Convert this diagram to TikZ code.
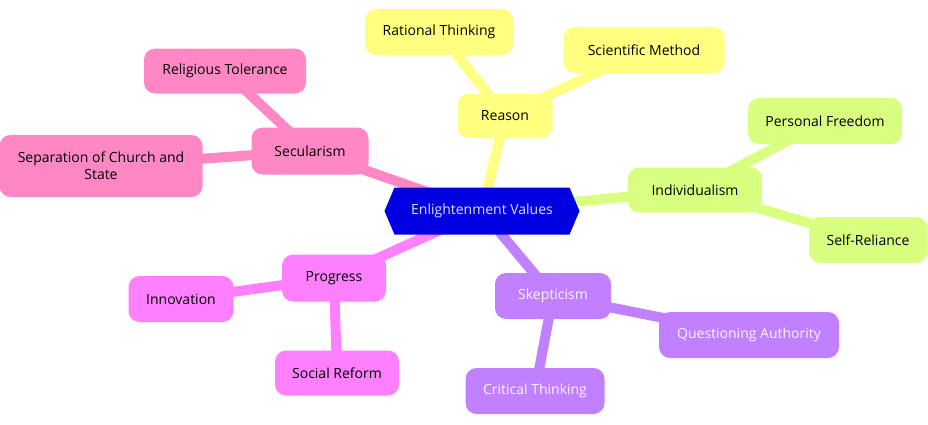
\documentclass[tikz,border=0pt]{standalone}
\usepackage{fontspec}
\setmainfont{Open Sans}
\usetikzlibrary{shapes.symbols}
\definecolor{hubblue}{HTML}{0000E0}
\definecolor{reasonyellow}{HTML}{FFFF80}
\definecolor{secpink}{HTML}{FF88C4}
\definecolor{indgreen}{HTML}{D9FF80}
\definecolor{skeppurple}{HTML}{C080FF}
\definecolor{progmagenta}{HTML}{FF80FF}
\pgfdeclarelayer{background}
\pgfsetlayers{background,main}
\tikzset{
  topic/.style={rounded corners=11pt,inner sep=0pt,minimum height=45pt,
    align=center,font=\fontsize{14}{17}\selectfont},
  branch/.style={line width=10pt},
}
\begin{document}
\begin{tikzpicture}[x=1pt,y=-1pt]
\useasboundingbox (0,0) rectangle (928,424);
% hub
\node[signal,signal to=west and east,signal pointer angle=134,fill=hubblue,
  text=white!88!hubblue,minimum width=195pt,minimum height=47pt,inner sep=0pt,
  font=\fontsize{14}{17}\selectfont] (hub) at (482,211) {Enlightenment Values};
% reason
\node[topic,fill=reasonyellow,minimum width=95pt,minimum height=44pt] (reason) at (505,116) {Reason};
\node[topic,fill=reasonyellow,minimum width=148pt,minimum height=46pt] (rational) at (439,32) {Rational Thinking};
\node[topic,fill=reasonyellow,minimum width=161pt,minimum height=46pt] (scientific) at (644,50) {Scientific Method};
% secularism
\node[topic,fill=secpink,minimum width=117pt,minimum height=47pt] (secular) at (310,151) {Secularism};
\node[topic,fill=secpink,minimum width=162pt,minimum height=45pt] (tolerance) at (225,71) {Religious Tolerance};
\node[topic,fill=secpink,minimum width=203pt,minimum height=62pt] (separation) at (101,166) {Separation of Church and\\State};
% individualism
\node[topic,fill=indgreen,minimum width=134pt,minimum height=45pt] (individual) at (695,190) {Individualism};
\node[topic,fill=indgreen,minimum width=154pt,minimum height=46pt] (freedom) at (825,121) {Personal Freedom};
\node[topic,fill=indgreen,minimum width=118pt,minimum height=46pt] (reliance) at (868,240) {Self-Reliance};
% skepticism
\node[topic,fill=skeppurple,text=white!92!skeppurple,minimum width=116pt,minimum height=46pt] (skeptic) at (553,296) {Skepticism};
\node[topic,fill=skeppurple,text=white!92!skeppurple,minimum width=180pt,minimum height=46pt] (authority) at (749,335) {Questioning Authority};
\node[topic,fill=skeppurple,text=white!92!skeppurple,minimum width=139pt,minimum height=46pt] (critical) at (535,391) {Critical Thinking};
% progress
\node[topic,fill=progmagenta,minimum width=104pt,minimum height=47pt] (progress) at (334,278) {Progress};
\node[topic,fill=progmagenta,minimum width=105pt,minimum height=46pt] (innovation) at (181,299) {Innovation};
\node[topic,fill=progmagenta,minimum width=124pt,minimum height=45pt] (reform) at (337,373) {Social Reform};
% branches
\begin{pgfonlayer}{background}
\draw[branch,reasonyellow] (hub.center) -- (reason.center) (reason.center) -- (rational.center) (reason.center) -- (scientific.center);
\draw[branch,secpink] (hub.center) -- (secular.center) (secular.center) -- (tolerance.center) (secular.center) -- (separation.center);
\draw[branch,indgreen] (hub.center) -- (individual.center) (individual.center) -- (freedom.center) (individual.center) -- (reliance.center);
\draw[branch,skeppurple] (hub.center) -- (skeptic.center) (skeptic.center) -- (authority.center) (skeptic.center) -- (critical.center);
\draw[branch,progmagenta] (hub.center) -- (progress.center) (progress.center) -- (innovation.center) (progress.center) -- (reform.center);
\end{pgfonlayer}
\end{tikzpicture}
\end{document}
